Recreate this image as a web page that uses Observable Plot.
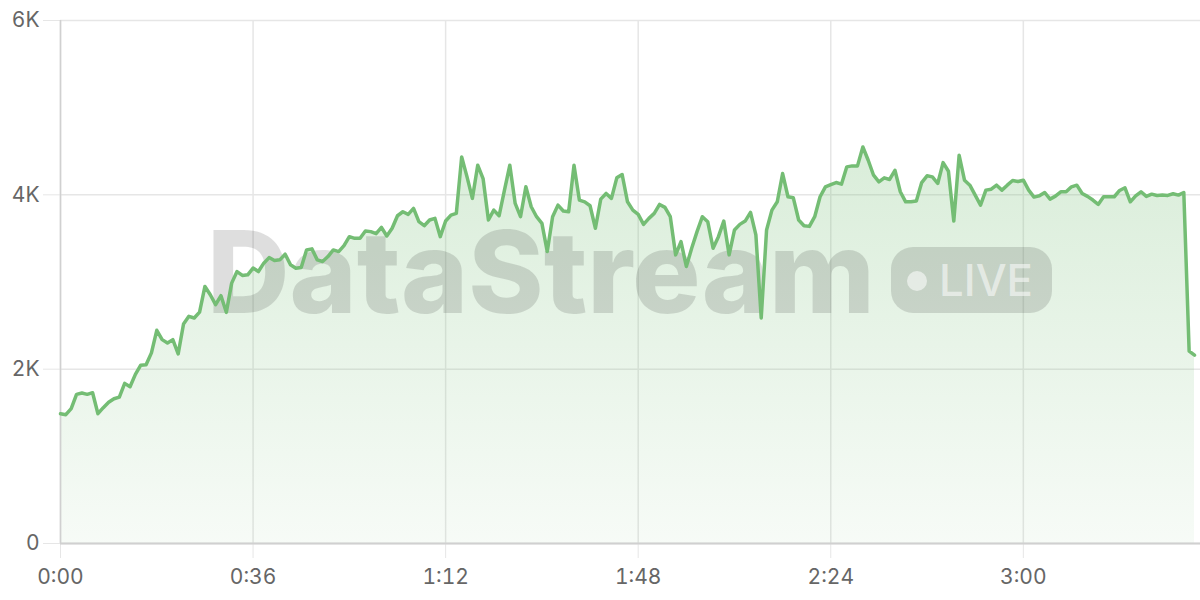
<!DOCTYPE html>
<html>
<head>
<meta charset="utf-8">
<script src="https://cdn.jsdelivr.net/npm/d3@7"></script>
<script src="https://cdn.jsdelivr.net/npm/@observablehq/plot@0.6"></script>
<style>
  html, body { margin: 0; padding: 0; background: #fff; }
  #chart svg { display: block; }
</style>
</head>
<body>
<div id="chart"></div>
<script>
// Values per time step (one per second, 0:00 … 3:32)
const values = [
  1489,1478,1547,1711,1726,1711,1730,1489,1558,1620,
  1661,1680,1837,1798,1940,2046,2050,2187,2446,2339,
  2301,2339,2175,2518,2606,2587,2655,2949,2854,2740,
  2843,2652,2987,3120,3075,3082,3160,3120,3216,3280,
  3246,3254,3319,3197,3159,3166,3368,3380,3254,3235,
  3292,3368,3349,3418,3520,3501,3501,3585,3578,3555,
  3627,3528,3616,3760,3806,3776,3844,3692,3646,3711,
  3730,3520,3700,3768,3787,4435,4206,3959,4340,4187,
  3711,3825,3760,4054,4340,3901,3749,4092,3863,3749,
  3673,3349,3749,3882,3814,3806,4340,3940,3920,3875,
  3616,3951,4016,3959,4195,4233,3920,3825,3775,3661,
  3730,3787,3890,3856,3749,3311,3463,3178,3387,3578,
  3749,3692,3387,3520,3699,3311,3597,3661,3699,3798,
  3540,2587,3597,3825,3920,4244,3978,3966,3711,3646,
  3638,3749,3978,4092,4118,4141,4122,4321,4332,4332,
  4549,4397,4225,4149,4195,4176,4282,4035,3920,3920,
  3928,4141,4218,4206,4130,4370,4271,3699,4454,4168,
  4111,3997,3882,4054,4065,4111,4054,4111,4164,4153,
  4168,4054,3974,3989,4027,3951,3985,4035,4035,4092,
  4111,4016,3982,3940,3890,3978,3978,3978,4050,4081,
  3920,3989,4035,3982,4008,3993,3997,3993,4012,3997,
  4027,2206,2160
];
const seconds = values.map((_, i) => i);
const xTicks = [0, 36, 72, 108, 144, 180];
const yTicks = [0, 2000, 4000, 6000];
const xDomain = [0, 212];
const yDomain = [0, 6000];

const data = values.map((v, i) => ({t: seconds[i], v}));

const lineColor = "#74bd74";
const fontStack = "Inter, 'Liberation Sans', sans-serif";
const fmtTime = d => `${Math.floor(d / 60)}:${String(d % 60).padStart(2, "0")}`;
const fmtK = d => d === 0 ? "0" : `${d / 1000}K`;

function gradientDefs() {
  const defs = d3.create("svg:defs");
  const g = defs.append("linearGradient")
    .attr("id", "areaGrad").attr("x1", 0).attr("y1", 0).attr("x2", 0).attr("y2", 1);
  g.append("stop").attr("offset", "0%").attr("stop-color", lineColor).attr("stop-opacity", 0.27);
  g.append("stop").attr("offset", "100%").attr("stop-color", lineColor).attr("stop-opacity", 0.06);
  return defs.node();
}

function watermark() {
  const g = d3.create("svg:g").attr("pointer-events", "none").attr("text-anchor", "start");
  g.append("text")
    .attr("x", 207).attr("y", 313)
    .attr("text-anchor", "start")
    .attr("font-family", fontStack)
    .attr("font-weight", 800).attr("font-size", 114)
    .attr("textLength", 668).attr("lengthAdjust", "spacingAndGlyphs")
    .attr("fill", "#000").attr("fill-opacity", 0.13)
    .text("DataStream");
  g.append("rect")
    .attr("x", 891).attr("y", 247).attr("width", 161).attr("height", 66).attr("rx", 22)
    .attr("fill", "#000").attr("fill-opacity", 0.13);
  g.append("circle")
    .attr("cx", 917).attr("cy", 281).attr("r", 10)
    .attr("fill", "#fff").attr("fill-opacity", 0.55);
  g.append("text")
    .attr("x", 939).attr("y", 296)
    .attr("text-anchor", "start")
    .attr("font-family", fontStack)
    .attr("font-weight", 500).attr("font-size", 44)
    .attr("textLength", 94).attr("lengthAdjust", "spacingAndGlyphs")
    .attr("fill", "#fff").attr("fill-opacity", 0.55)
    .text("LIVE");
  return g.node();
}

const chart = Plot.plot({
  width: 1200,
  height: 600,
  marginLeft: 60,
  marginRight: 0,
  marginTop: 20,
  marginBottom: 57,
  style: {fontFamily: fontStack, fontSize: "21px", color: "#666"},
  x: {domain: xDomain, range: [60, 1194], label: null},
  y: {domain: yDomain, label: null},
  marks: [
    gradientDefs,
    Plot.gridY(yTicks, {stroke: "#e6e6e6", strokeOpacity: 1, strokeWidth: 1.5}),
    Plot.gridX(xTicks, {stroke: "#e6e6e6", strokeOpacity: 1, strokeWidth: 1.5}),
    Plot.axisY(yTicks, {tickSize: 17, tickPadding: 4, stroke: "#e6e6e6", tickFormat: fmtK, fill: "#666", label: null}),
    Plot.axisX(xTicks, {tickSize: 15, tickPadding: 11, stroke: "#e6e6e6", tickFormat: fmtTime, fill: "#666", label: null}),
    Plot.areaY(data, {x: "t", y: "v", fill: "url(#areaGrad)"}),
    watermark,
    Plot.ruleX([0], {stroke: "#d0d0d0", strokeWidth: 1.5}),
    Plot.ruleY([0], {stroke: "#d0d0d0", strokeWidth: 2}),
    Plot.lineY(data, {x: "t", y: "v", stroke: lineColor, strokeWidth: 3.5, strokeLinejoin: "round"})
  ]
});
document.getElementById("chart").append(chart);
</script>
</body>
</html>
